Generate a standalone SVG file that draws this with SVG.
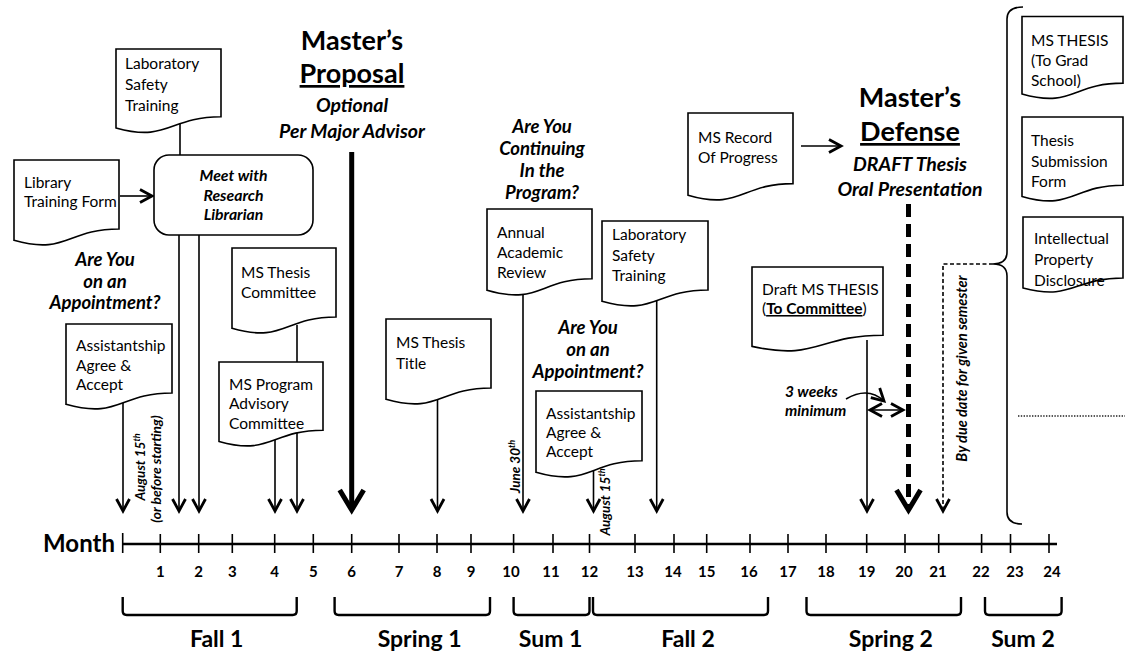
<svg xmlns="http://www.w3.org/2000/svg" width="1125" height="655" viewBox="0 0 1125 655">
<style>
.bg{fill:#fff}
.doc{fill:#fff;stroke:#000;stroke-width:1.6}
.box{fill:#fff;stroke:#000;stroke-width:1.6}
.t{font-family:Lato,"Liberation Sans",sans-serif;font-size:15.5px;fill:#000}
.bi{font-family:Lato,"Liberation Sans",sans-serif;font-weight:700;font-style:italic;fill:#000}
.b{font-family:Lato,"Liberation Sans",sans-serif;font-weight:700;fill:#000}
.mid{text-anchor:middle}
.ln{stroke:#000;stroke-width:1.6;fill:none}
.thk{stroke:#000;stroke-width:5;fill:none}
.ar{marker-end:url(#ah)}
.arb{marker-end:url(#ahb)}
.tick{stroke:#000;stroke-width:1.6}
.brk{stroke:#000;stroke-width:2.4;fill:none}
</style>
<defs>
<marker id="ah" viewBox="0 0 16 16" refX="14" refY="8" markerWidth="16" markerHeight="16" markerUnits="userSpaceOnUse" orient="auto-start-reverse" overflow="visible">
<path d="M2,1.5 L14,8 L2,14.5" fill="none" stroke="#000" stroke-width="2.8" stroke-dasharray="none"/>
</marker>
<marker id="ahb" viewBox="0 0 30 30" refX="24" refY="15" markerWidth="30" markerHeight="30" markerUnits="userSpaceOnUse" orient="auto" overflow="visible">
<path d="M4,3 L24,15 L4,27" fill="none" stroke="#000" stroke-width="5" stroke-dasharray="none"/>
</marker>
</defs>
<rect class="bg" x="0" y="0" width="1125" height="655"/>

<g id="connectors">
<line class="ln" x1="180" y1="120" x2="180" y2="160"/>
<line class="ln ar" x1="120" y1="196" x2="152" y2="196"/>
<line class="ln ar" x1="123" y1="398" x2="123" y2="511"/>
<line class="ln ar" x1="179" y1="225" x2="179" y2="511"/>
<line class="ln ar" x1="199" y1="225" x2="199" y2="511"/>
<line class="ln" x1="297" y1="325" x2="297" y2="364"/>
<line class="ln ar" x1="275" y1="435" x2="275" y2="511"/>
<line class="ln ar" x1="297" y1="430" x2="297" y2="511"/>
<line class="thk arb" x1="351.7" y1="152" x2="351.7" y2="510"/>
<line class="ln ar" x1="437.5" y1="395" x2="437.5" y2="511"/>
<line class="ln ar" x1="523" y1="285" x2="523" y2="511"/>
<line class="ln ar" x1="593.5" y1="462" x2="593.5" y2="511"/>
<line class="ln ar" x1="656.7" y1="295" x2="656.7" y2="511"/>
<line class="ln ar" x1="801" y1="146" x2="841" y2="146"/>
<line class="ln ar" x1="867" y1="340" x2="867" y2="511"/>
<line class="thk arb" x1="908.5" y1="204" x2="908.5" y2="510" stroke-dasharray="13 7"/>
<path class="ln ar" d="M993,264 H943 V511" stroke-width="1.2" stroke-dasharray="4 2.5"/>
<path class="ln ar" d="M846,399 Q868,386 884,401"/>
<line class="ln ar" x1="870" y1="410" x2="903" y2="410" style="marker-start:url(#ah)"/>
<path class="ln" d="M1023,7 Q1007,7 1007,19 V252 Q1007,264 993,264 Q1007,264 1007,276 V512 Q1007,524 1022,524"/>
<line x1="1018" y1="416" x2="1125" y2="416" stroke="#222" stroke-width="1.4" stroke-dasharray="1.4 1.4"/>
</g>

<g id="lab-safety-1">
<path class="doc" d="M116,49 H221 V116.8 C168.5,116.8 168.5,142.6 116,127.9 Z"/>
<text class="t" x="125" y="69">Laboratory</text>
<text class="t" x="125" y="90">Safety</text>
<text class="t" x="125" y="111">Training</text>
</g>

<g id="library-form">
<path class="doc" d="M14,160 H119 V229 C66.5,229 66.5,255.2 14,240.3 Z"/>
<text class="t" x="24" y="188">Library</text>
<text class="t" x="24" y="207">Training Form</text>
</g>

<g id="meet-librarian">
<rect class="box" x="154" y="155" width="159" height="80" rx="15"/>
<text class="bi mid" x="233.5" y="181" font-size="15.8">Meet with</text>
<text class="bi mid" x="233.5" y="200.5" font-size="15.8">Research</text>
<text class="bi mid" x="233.5" y="220" font-size="15.8">Librarian</text>
</g>

<g id="appointment-q1">
<text class="bi mid" x="105" y="266" font-size="18.5">Are You</text>
<text class="bi mid" x="105" y="287.5" font-size="18.5">on an</text>
<text class="bi mid" x="105" y="309" font-size="18.5">Appointment?</text>
</g>

<g id="assistantship-1">
<path class="doc" d="M66,324 H172 V393 C119,393 119,419.2 66,404.3 Z"/>
<text class="t" x="76" y="351">Assistantship</text>
<text class="t" x="76" y="370.5">Agree &amp;</text>
<text class="t" x="76" y="390">Accept</text>
</g>

<g id="aug15-1">
<text class="bi mid" font-size="13.5" transform="translate(144.5,467) rotate(-90)">August 15<tspan font-size="9" baseline-shift="super">th</tspan></text>
<text class="bi mid" font-size="13.8" transform="translate(161,469) rotate(-90)">(or before starting)</text>
</g>

<g id="thesis-committee">
<path class="doc" d="M232,248 H336 V317 C284,317 284,343.2 232,328.3 Z"/>
<text class="t" x="241" y="278">MS Thesis</text>
<text class="t" x="241" y="298">Committee</text>
</g>

<g id="program-committee">
<path class="doc" d="M219,362 H323 V430.2 C271,430.2 271,456.1 219,441.4 Z"/>
<text class="t" x="229" y="390">MS Program</text>
<text class="t" x="229" y="409">Advisory</text>
<text class="t" x="229" y="428.5">Committee</text>
</g>

<g id="masters-proposal">
<text class="b mid" x="352" y="50" font-size="27">Master’s</text>
<text class="b mid" x="352" y="83" font-size="27" text-decoration="underline">Proposal</text>
<text class="bi mid" x="352" y="112" font-size="19.5">Optional</text>
<text class="bi mid" x="352" y="138" font-size="19.5">Per Major Advisor</text>
</g>

<g id="thesis-title">
<path class="doc" d="M386,319 H491 V388 C438.5,388 438.5,414.2 386,399.3 Z"/>
<text class="t" x="396" y="348">MS Thesis</text>
<text class="t" x="396" y="369">Title</text>
</g>

<g id="continuing-q">
<text class="bi mid" x="542" y="133" font-size="18.5">Are You</text>
<text class="bi mid" x="542" y="155" font-size="18.5">Continuing</text>
<text class="bi mid" x="542" y="177" font-size="18.5">In the</text>
<text class="bi mid" x="542" y="199" font-size="18.5">Program?</text>
</g>

<g id="annual-review">
<path class="doc" d="M487,209 H592 V278.8 C539.5,278.8 539.5,305.4 487,290.3 Z"/>
<text class="t" x="497" y="238">Annual</text>
<text class="t" x="497" y="258">Academic</text>
<text class="t" x="497" y="278">Review</text>
</g>

<g id="june30">
<text class="bi mid" font-size="13.5" transform="translate(519.5,466.5) rotate(-90)">June 30<tspan font-size="9" baseline-shift="super">th</tspan></text>
</g>

<g id="lab-safety-2">
<path class="doc" d="M602,221 H708 V290 C655,290 655,316.2 602,301.3 Z"/>
<text class="t" x="612" y="240">Laboratory</text>
<text class="t" x="612" y="261">Safety</text>
<text class="t" x="612" y="281">Training</text>
</g>

<g id="appointment-q2">
<text class="bi mid" x="588" y="334" font-size="18.5">Are You</text>
<text class="bi mid" x="588" y="356" font-size="18.5">on an</text>
<text class="bi mid" x="588" y="378" font-size="18.5">Appointment?</text>
</g>

<g id="assistantship-2">
<path class="doc" d="M536,391 H642 V460.8 C589,460.8 589,487.4 536,472.3 Z"/>
<text class="t" x="546" y="419">Assistantship</text>
<text class="t" x="546" y="438">Agree &amp;</text>
<text class="t" x="546" y="457">Accept</text>
</g>

<g id="aug15-2">
<text class="bi mid" font-size="13.5" transform="translate(609.5,502) rotate(-90)">August 15<tspan font-size="9" baseline-shift="super">th</tspan></text>
</g>

<g id="record-progress">
<path class="doc" d="M688,113 H793 V183.6 C740.5,183.6 740.5,210.5 688,195.2 Z"/>
<text class="t" x="698" y="143">MS Record</text>
<text class="t" x="698" y="163">Of Progress</text>
</g>

<g id="masters-defense">
<text class="b mid" x="910" y="107" font-size="27">Master’s</text>
<text class="b mid" x="910" y="141" font-size="27" text-decoration="underline">Defense</text>
<text class="bi mid" x="910" y="171" font-size="19.5">DRAFT Thesis</text>
<text class="bi mid" x="910" y="196" font-size="19.5">Oral Presentation</text>
</g>

<g id="draft-thesis">
<path class="doc" d="M752,267 H883 V335.2 C817.5,335.2 817.5,361.1 752,346.4 Z"/>
<text class="t" x="762" y="295">Draft MS THESIS</text>
<text class="t" x="762" y="314">(<tspan font-weight="700" text-decoration="underline">To Committee</tspan>)</text>
</g>

<g id="three-weeks">
<text class="bi" x="785" y="397" font-size="15.5">3 weeks</text>
<text class="bi" x="785" y="416" font-size="15.5">minimum</text>
</g>

<g id="due-date">
<text class="bi mid" font-size="14.5" transform="translate(966.5,368.5) rotate(-90)">By due date for given semester</text>
</g>

<g id="ms-thesis-grad">
<path class="doc" d="M1022,16.5 H1123 V83.1 C1072.5,83.1 1072.5,108.4 1022,94 Z"/>
<text class="t" x="1031" y="46">MS THESIS</text>
<text class="t" x="1031" y="66">(To Grad</text>
<text class="t" x="1031" y="86">School)</text>
</g>

<g id="thesis-submission">
<path class="doc" d="M1022,117 H1123 V185.2 C1072.5,185.2 1072.5,211.1 1022,196.4 Z"/>
<text class="t" x="1031" y="146">Thesis</text>
<text class="t" x="1031" y="167">Submission</text>
<text class="t" x="1031" y="187">Form</text>
</g>

<g id="ip-disclosure">
<path class="doc" d="M1023,217 H1123 V278 C1073,278 1073,301 1023,288 Z"/>
<text class="t" x="1034" y="244">Intellectual</text>
<text class="t" x="1034" y="265">Property</text>
<text class="t" x="1034" y="286">Disclosure</text>
</g>

<g id="timeline">
<text class="b" x="115" y="552" font-size="24" text-anchor="end">Month</text>
<line x1="122.7" y1="544" x2="1057" y2="544" stroke="#000" stroke-width="2.4"/>
<g class="tick">
<line x1="122.7" y1="533" x2="122.7" y2="553"/>
<line x1="160.3" y1="534" x2="160.3" y2="553"/>
<line x1="198.7" y1="534" x2="198.7" y2="553"/>
<line x1="232.3" y1="534" x2="232.3" y2="553"/>
<line x1="274.7" y1="534" x2="274.7" y2="553"/>
<line x1="313.3" y1="534" x2="313.3" y2="553"/>
<line x1="351.7" y1="534" x2="351.7" y2="553"/>
<line x1="399" y1="534" x2="399" y2="553"/>
<line x1="437" y1="534" x2="437" y2="553"/>
<line x1="471" y1="534" x2="471" y2="553"/>
<line x1="513.6" y1="534" x2="513.6" y2="553"/>
<line x1="553" y1="534" x2="553" y2="553"/>
<line x1="589.5" y1="534" x2="589.5" y2="553"/>
<line x1="635" y1="534" x2="635" y2="553"/>
<line x1="674" y1="534" x2="674" y2="553"/>
<line x1="706.7" y1="534" x2="706.7" y2="553"/>
<line x1="750" y1="534" x2="750" y2="553"/>
<line x1="788" y1="534" x2="788" y2="553"/>
<line x1="826" y1="534" x2="826" y2="553"/>
<line x1="866.7" y1="534" x2="866.7" y2="553"/>
<line x1="905" y1="534" x2="905" y2="553"/>
<line x1="938.7" y1="534" x2="938.7" y2="553"/>
<line x1="981.6" y1="534" x2="981.6" y2="553"/>
<line x1="1010.5" y1="534" x2="1010.5" y2="553"/>
<line x1="1049" y1="534" x2="1049" y2="553"/>
</g>
<g class="b mid" font-size="15">
<text x="160.3" y="577">1</text>
<text x="198.7" y="577">2</text>
<text x="232.3" y="577">3</text>
<text x="274.7" y="577">4</text>
<text x="313.3" y="577">5</text>
<text x="351.7" y="577">6</text>
<text x="399" y="577">7</text>
<text x="437" y="577">8</text>
<text x="471" y="577">9</text>
<text x="511" y="577">10</text>
<text x="551" y="577">11</text>
<text x="589.5" y="577">12</text>
<text x="635" y="577">13</text>
<text x="673" y="577">14</text>
<text x="706.7" y="577">15</text>
<text x="749" y="577">16</text>
<text x="788" y="577">17</text>
<text x="826" y="577">18</text>
<text x="866.7" y="577">19</text>
<text x="904" y="577">20</text>
<text x="938" y="577">21</text>
<text x="981" y="577">22</text>
<text x="1015" y="577">23</text>
<text x="1052" y="577">24</text>
</g>
</g>

<g id="semesters">
<path class="brk" d="M122.7,597 V611 Q122.7,615 126.7,615 H292.7 Q296.7,615 296.7,611 V597"/>
<path class="brk" d="M334.6,597 V611 Q334.6,615 338.6,615 H486 Q490,615 490,611 V597"/>
<path class="brk" d="M513.6,597 V611 Q513.6,615 517.6,615 H585.5 Q589.5,615 589.5,611 V597"/>
<path class="brk" d="M593,597 V611 Q593,615 597,615 H764 Q768,615 768,611 V597"/>
<path class="brk" d="M806.5,597 V611 Q806.5,615 810.5,615 H957 Q961,615 961,611 V597"/>
<path class="brk" d="M985,597 V611 Q985,615 989,615 H1057.6 Q1061.6,615 1061.6,611 V597"/>
<g class="b mid" font-size="23">
<text x="216.7" y="647">Fall 1</text>
<text x="419.6" y="647">Spring 1</text>
<text x="550.6" y="647">Sum 1</text>
<text x="688" y="647">Fall 2</text>
<text x="890.8" y="647">Spring 2</text>
<text x="1023" y="647">Sum 2</text>
</g>
</g>
</svg>
